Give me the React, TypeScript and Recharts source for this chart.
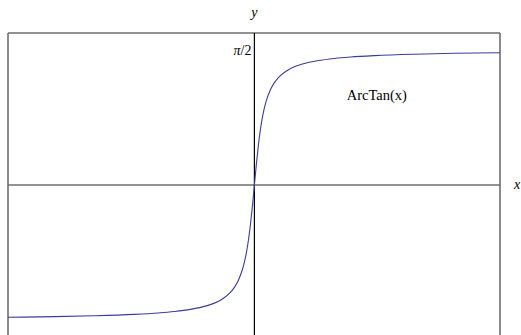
import React from 'react';
import { LineChart, Line, XAxis, YAxis, ReferenceLine, ReferenceDot } from 'recharts';

// Sample points of y = ArcTan(x)
const xs = [-30.8, -25, -20, -15, -12, -10, -8, -6, -5, -4, -3, -2.5, -2, -1.5, -1.25, -1, -0.75, -0.5, -0.25, 0,
  0.25, 0.5, 0.75, 1, 1.25, 1.5, 2, 2.5, 3, 4, 5, 6, 8, 10, 12, 15, 20, 25, 30.7];
const ys = [-1.5384, -1.5308, -1.5208, -1.5042, -1.4877, -1.4711, -1.4464, -1.4056, -1.3734, -1.3258, -1.2490, -1.1903,
  -1.1071, -0.9828, -0.8961, -0.7854, -0.6435, -0.4636, -0.2450, 0,
  0.2450, 0.4636, 0.6435, 0.7854, 0.8961, 0.9828, 1.1071, 1.1903, 1.2490, 1.3258, 1.3734, 1.4056, 1.4464, 1.4711,
  1.4877, 1.5042, 1.5208, 1.5308, 1.5382];

const xDomain = [-30.8, 30.7];
const yDomain = [-1.744, 1.767];
const yTick = Math.PI / 2;
const yTickLabel = ['π', '/2']; // italic symbol, upright rest
const curveLabel = 'ArcTan(x)';

const data = xs.map((x, i) => ({ x, y: ys[i] }));

const serif = 'Liberation Serif, Times New Roman, serif';
const frame = '#6e6e6e';

// Builds a label renderer placing text relative to the reference element's viewBox.
// Parts alternate italic/upright when `italic` is an array.
function textAt(
  value: string | string[],
  dx: number,
  dy: number,
  anchor: 'start' | 'middle' | 'end',
  italic: boolean | boolean[],
  fromRight = false,
  size = 14,
) {
  const parts = Array.isArray(value) ? value : [value];
  const styles = Array.isArray(italic) ? italic : parts.map(() => italic);
  return (props: any) => {
    const vb = props.viewBox || {};
    const x = (vb.x ?? 0) + (fromRight ? vb.width ?? 0 : 0) + dx;
    const y = (vb.y ?? 0) + dy;
    return (
      <text x={x} y={y} textAnchor={anchor} style={{ fill: '#000', fontFamily: serif, fontSize: size }}>
        {parts.map((p, i) => (
          <tspan key={i} style={{ fontStyle: styles[i] ? 'italic' : 'normal' }}>
            {p}
          </tspan>
        ))}
      </text>
    );
  };
}

export default function App() {
  return (
    <div style={{ position: 'absolute', left: 0, top: 0, width: 521, height: 335, overflow: 'hidden', background: '#fff' }}>
      <LineChart width={521} height={335} data={data} margin={{ top: 33, right: 21, bottom: 0, left: 8 }}>
        <XAxis type="number" dataKey="x" domain={xDomain} hide allowDataOverflow />
        <YAxis type="number" domain={yDomain} hide allowDataOverflow />
        {/* frame */}
        <ReferenceLine y={yDomain[1]} stroke={frame} strokeWidth={1.6} />
        <ReferenceLine x={xDomain[0]} stroke={frame} strokeWidth={1.6} />
        <ReferenceLine x={xDomain[1]} stroke={frame} strokeWidth={1.6} />
        {/* axes through the origin */}
        <ReferenceLine y={0} stroke={frame} strokeWidth={1.4} label={textAt('x', 14, 4.5, 'start', true, true)} />
        <ReferenceLine x={0} stroke="#000" strokeWidth={1.2} label={textAt('y', 0, -16, 'middle', true)} />
        <ReferenceDot x={0} y={yTick} r={0} fill="none" stroke="none" label={textAt(yTickLabel, -3, 5, 'end', [true, false])} />
        <ReferenceDot x={15.3} y={1.047} r={0} fill="none" stroke="none" label={textAt(curveLabel, 0, 5, 'middle', false, false, 14.5)} />
        <Line type="monotone" dataKey="y" stroke="#3d3d99" strokeWidth={1.1} dot={false} isAnimationActive={false} />
      </LineChart>
    </div>
  );
}
